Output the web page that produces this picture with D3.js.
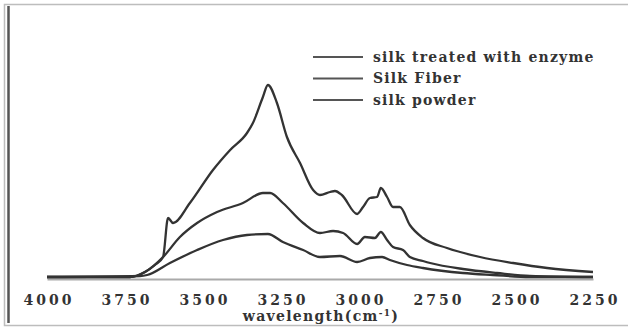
<!DOCTYPE html>
<html>
<head>
<meta charset="utf-8">
<script src="https://cdn.jsdelivr.net/npm/d3@7"></script>
<style>
  body { margin: 0; background: #fff; }
  text { font-family: "DejaVu Serif", serif; font-weight: bold; fill: #333; }
</style>
</head>
<body>
<div id="chart"></div>
<script>
// series names, in legend order
var seriesNames = ["silk treated with enzyme", "Silk Fiber", "silk powder"];

// wavenumber (cm-1) and intensity (arbitrary units)
var enzymeWn  = [4000, 3734, 3686, 3654, 3628, 3612, 3596, 3542, 3468, 3413, 3359, 3340, 3308, 3292, 3263, 3231, 3189, 3147, 3125, 3093, 3077, 3055, 3006, 2987, 2965, 2942, 2930, 2910, 2891, 2869, 2837, 2795, 2718, 2612, 2506, 2397, 2250];
var enzymeVal = [0, 0, 5, 12, 20, 59, 54, 74, 107, 127, 144, 154, 180, 192, 174, 140, 114, 87, 82, 85, 86, 82, 63, 70, 79, 80, 89, 80, 70, 70, 52, 39, 29, 20, 14, 9, 5];

var fiberWn  = [4000, 3734, 3686, 3628, 3574, 3519, 3455, 3372, 3308, 3285, 3244, 3179, 3125, 3083, 3051, 3006, 2981, 2949, 2930, 2910, 2891, 2859, 2837, 2795, 2772, 2667, 2558, 2452, 2250];
var fiberVal = [0, 0, 5, 20, 40, 54, 65, 74, 84, 84, 74, 54, 44, 46, 44, 33, 40, 39, 45, 37, 30, 27, 20, 16, 14, 8, 4, 1, 0];

var powderWn  = [4000, 3702, 3679, 3606, 3519, 3436, 3359, 3292, 3244, 3179, 3125, 3061, 3006, 2965, 2926, 2901, 2846, 2795, 2667, 2571, 2452, 2250];
var powderVal = [0, 1, 2, 14, 27, 37, 42, 43, 35, 27, 20, 21, 15, 19, 20, 17, 12, 9, 4, 2, 0, 0];

var tickValues = [4000, 3750, 3500, 3250, 3000, 2750, 2500, 2250];

function main()
{
    var W = 628, H = 332;

    var svg = d3.select("#chart").append("svg")
        .attr("width", W)
        .attr("height", H);

    // frame of the picture
    svg.append("rect")
        .attr("x", 4.5).attr("y", 4.5)
        .attr("width", W + 10).attr("height", 321)
        .attr("fill", "none")
        .attr("stroke", "#bdbdbd")
        .attr("stroke-width", 1.5);
    svg.append("line")
        .attr("x1", 8.5).attr("x2", 8.5)
        .attr("y1", 6).attr("y2", 323)
        .attr("stroke", "#555")
        .attr("stroke-width", 2.5);

    var x = d3.scaleLinear().domain([4000, 2250]).range([47, 593]);
    var y = d3.scaleLinear().domain([0, 257]).range([277, 20]);

    // x axis
    var axis = svg.append("g")
        .attr("transform", "translate(0,279)")
        .call(d3.axisBottom(x).tickValues(tickValues).tickSize(0).tickPadding(16).tickFormat(d3.format("d")));
    axis.select(".domain").attr("stroke", "#aaa").attr("stroke-width", 2);
    axis.selectAll("text")
        .attr("dx", 1.5)
        .style("font-family", "DejaVu Serif, serif")
        .style("font-weight", "bold")
        .style("font-size", "14px")
        .style("letter-spacing", "3px")
        .attr("fill", "#333");

    var title = svg.append("text")
        .attr("x", 321).attr("y", 321)
        .attr("text-anchor", "middle")
        .style("font-size", "14px")
        .style("letter-spacing", "1.3px")
        .text("wavelength(cm");
    title.append("tspan").attr("dy", -5).style("font-size", "9px").text("-1");
    title.append("tspan").attr("dy", 5).text(")");

    // the three spectra
    var series = [
        {name: seriesNames[0], wn: enzymeWn, val: enzymeVal},
        {name: seriesNames[1], wn: fiberWn, val: fiberVal},
        {name: seriesNames[2], wn: powderWn, val: powderVal}
    ];

    var line = d3.line()
        .x(function(d) { return x(d[0]); })
        .y(function(d) { return y(d[1]); })
        .curve(d3.curveMonotoneX);

    svg.selectAll(".spectrum")
        .data(series)
        .enter().append("path")
        .attr("class", "spectrum")
        .attr("fill", "none")
        .attr("stroke", "#333")
        .attr("stroke-width", 2.3)
        .attr("stroke-linejoin", "round")
        .attr("d", function(s) { return line(d3.zip(s.wn, s.val)); });

    // legend
    var legend = svg.selectAll(".legend")
        .data(seriesNames)
        .enter().append("g")
        .attr("class", "legend")
        .attr("transform", function(d, i) { return "translate(313," + (57 + i * 21.5) + ")"; });

    legend.append("line")
        .attr("x1", 0).attr("x2", 50)
        .attr("stroke", "#555")
        .attr("stroke-width", 2);

    legend.append("text")
        .attr("x", 60).attr("dy", "0.35em")
        .style("font-size", "14px")
        .style("letter-spacing", "1.2px")
        .text(function(d) { return d; });
}
main();
</script>
</body>
</html>
